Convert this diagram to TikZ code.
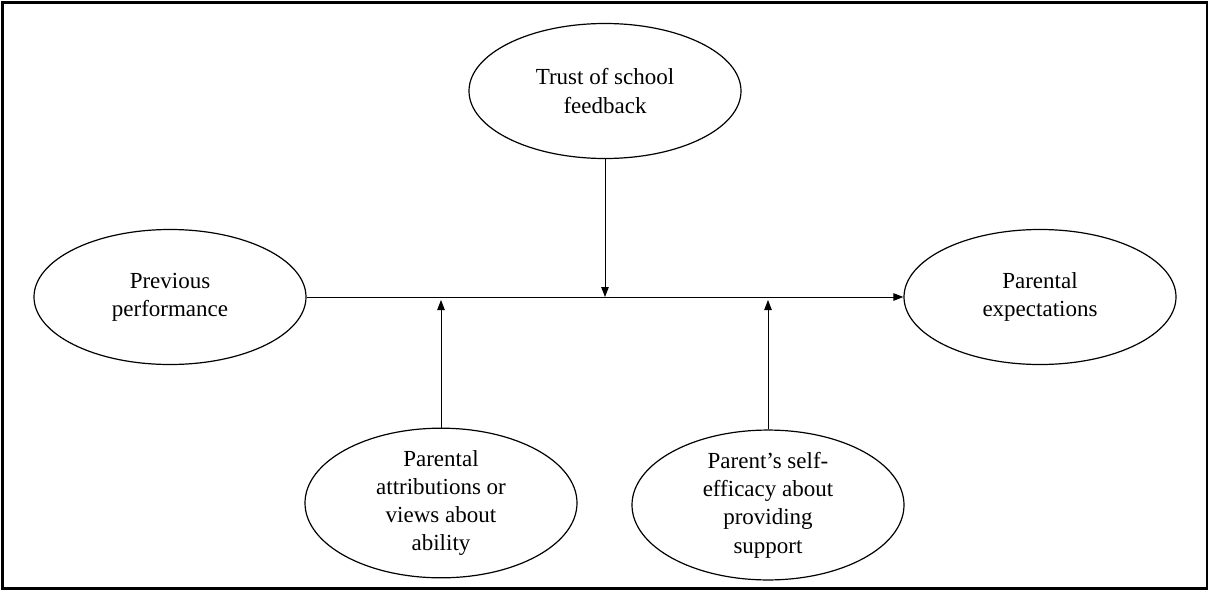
\documentclass[tikz,border=0pt]{standalone}
\usepackage{fontspec}
\setmainfont{Liberation Serif}
\usetikzlibrary{shapes.geometric,arrows.meta}
\begin{document}
\begin{tikzpicture}[x=1pt,y=-1pt,
  factor/.style={ellipse,draw,line width=1.2pt,minimum width=272pt,minimum height=135pt,
    inner sep=0pt,align=center,font=\fontsize{23}{28.3}\selectfont},
  link/.style={line width=0.9pt,-{Triangle[length=10pt,width=7.5pt]}}]
  \useasboundingbox (0,0) rectangle (1213,592);
  \draw[line width=2.2pt] (2.5,2.5) rectangle (1207,588.5);
  \node[factor] (trust) at (605,91) {Trust of school\\feedback};
  \node[factor] (prev)  at (170,297) {Previous\\performance};
  \node[factor] (exp)   at (1040,297) {Parental\\expectations};
  \node[factor] (attr)  at (441,503) {Parental\\attributions or\\views about\\ability};
  \node[factor] (self)  at (768,505) {Parent’s self-\\efficacy about\\providing\\support};
  \coordinate (mTrust) at (605,297);
  \coordinate (mAttr)  at (441,300);
  \coordinate (mSelf)  at (768,300);
  \draw[link] (prev.east) -- (exp.west);
  \draw[link] (trust.south) -- (mTrust);
  \draw[link] (attr.north) -- (mAttr);
  \draw[link] (self.north) -- (mSelf);
\end{tikzpicture}
\end{document}
